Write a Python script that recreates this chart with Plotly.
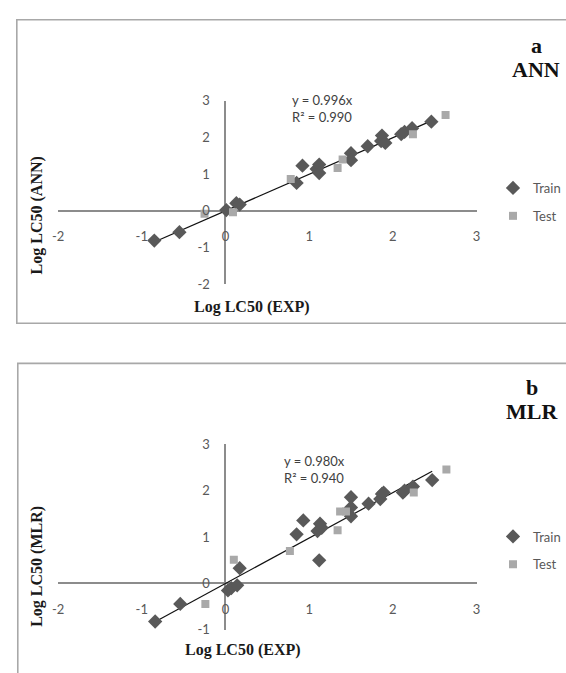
import plotly.graph_objects as go

# ---------------- data ----------------
ann_train_x = [-0.85, -0.55, 0.01, 0.13, 0.17, 0.85, 0.92, 1.09, 1.12, 1.12,
               1.50, 1.50, 1.70, 1.86, 1.87, 1.91, 2.10, 2.14, 2.23, 2.46]
ann_train_y = [-0.81, -0.58, 0.02, 0.21, 0.17, 0.76, 1.23, 1.14, 1.26, 1.03,
               1.57, 1.38, 1.76, 1.90, 2.05, 1.85, 2.09, 2.15, 2.25, 2.43]
ann_test_x = [-0.25, 0.09, 0.78, 1.34, 1.40, 2.24, 2.63]
ann_test_y = [-0.08, -0.04, 0.87, 1.17, 1.40, 2.09, 2.61]
ann_slope = 0.996
ann_r2 = 0.990

mlr_train_x = [-0.84, -0.54, 0.03, 0.07, 0.14, 0.17, 0.85, 0.93, 1.10, 1.13, 1.15, 1.12,
               1.50, 1.50, 1.50, 1.71, 1.85, 1.87, 1.89, 2.12, 2.14, 2.24, 2.47]
mlr_train_y = [-0.82, -0.44, -0.15, -0.10, -0.04, 0.33, 1.06, 1.36, 1.13, 1.29, 1.20, 0.50,
               1.86, 1.64, 1.45, 1.72, 1.82, 1.93, 1.96, 1.96, 2.00, 2.09, 2.23]
mlr_test_x = [-0.24, 0.10, 0.77, 1.34, 1.37, 1.44, 2.25, 2.64]
mlr_test_y = [-0.44, 0.51, 0.70, 1.15, 1.55, 1.55, 1.96, 2.46]
mlr_slope = 0.980
mlr_r2 = 0.940

x_ticks = [-2, -1, 0, 1, 2, 3]
x_tick_labels = ["-2", "-1", "0", "1", "2", "3"]
ann_y_ticks = [-2, -1, 0, 1, 2, 3]
ann_y_tick_labels = ["-2", "-1", "0", "1", "2", "3"]
mlr_y_ticks = [-1, 0, 1, 2, 3]
mlr_y_tick_labels = ["-1", "0", "1", "2", "3"]

panel_letters = ["a", "b"]
panel_models = ["ANN", "MLR"]
x_title = "Log LC50 (EXP)"
y_titles = ["Log LC50 (ANN)", "Log LC50 (MLR)"]
series_names = ["Train", "Test"]

# ---------------- layout helpers ----------------
W, H = 566, 673
def px(x):
    return x / W
def py(y):
    return 1 - y / H

TRAIN_COLOR = "#595959"
TEST_COLOR = "#a9a9a9"
TICK_FONT = dict(family="Lato", size=13, color="#595959")
SANS = "Lato"
SERIF = "Liberation Serif"

x_range = [-2, 3]
x_dom = [px(53), px(479)]
panels = [
    dict(tx=ann_train_x, ty=ann_train_y, sx=ann_test_x, sy=ann_test_y,
         slope=ann_slope, r2=ann_r2, yr=[-2, 3], ydom=[py(283), py(95)],
         yt=ann_y_ticks, ytl=ann_y_tick_labels, legend="legend",
         box=(11, 12, 323), xt=(250, 306), yti=(32, 212),
         let=(540, 38), mod=(540, 63), eq=(289, 102.5), leg_top=169),
    dict(tx=mlr_train_x, ty=mlr_train_y, sx=mlr_test_x, sy=mlr_test_y,
         slope=mlr_slope, r2=mlr_r2, yr=[-1, 3], ydom=[py(637), py(447)],
         yt=mlr_y_ticks, ytl=mlr_y_tick_labels, legend="legend2",
         box=(12, 364, 700), xt=(241, 658), yti=(32, 572),
         let=(535, 389), mod=(535, 413), eq=(281, 473), leg_top=526),
]

fig = go.Figure()
annotations = []
shapes = []
layout_axes = {}

for i, p in enumerate(panels):
    n = "" if i == 0 else str(i + 1)
    xa, ya = "x" + n, "y" + n
    # trendline through origin over the training range
    lx = [min(p["tx"]), max(p["tx"])]
    ly = [p["slope"] * v for v in lx]
    fig.add_trace(go.Scatter(x=lx, y=ly, mode="lines", xaxis=xa, yaxis=ya,
                             line=dict(color="#111111", width=1.2), showlegend=False,
                             hoverinfo="skip"))
    fig.add_trace(go.Scatter(x=p["tx"], y=p["ty"], mode="markers", name=series_names[0],
                             xaxis=xa, yaxis=ya, legend=p["legend"], legendgroup="tr" + n,
                             marker=dict(symbol="diamond", size=11, color=TRAIN_COLOR)))
    fig.add_trace(go.Scatter(x=p["sx"], y=p["sy"], mode="markers", name=series_names[1],
                             xaxis=xa, yaxis=ya, legend=p["legend"], legendgroup="te" + n,
                             marker=dict(symbol="square", size=8, color=TEST_COLOR)))

    # axis crossing positions (Excel style axes at zero)
    xpos = p["ydom"][0] + (0 - p["yr"][0]) / (p["yr"][1] - p["yr"][0]) * (p["ydom"][1] - p["ydom"][0])
    ypos = x_dom[0] + (0 - x_range[0]) / (x_range[1] - x_range[0]) * (x_dom[1] - x_dom[0])
    common = dict(showgrid=False, showline=False, ticks="outside", tickcolor="rgba(0,0,0,0)",
                  zeroline=True, zerolinecolor="#8c8c8c", zerolinewidth=1.6, tickfont=TICK_FONT)
    layout_axes["xaxis" + n] = dict(common, domain=x_dom, range=x_range, anchor="free",
                                    position=xpos, tickvals=x_ticks, ticktext=x_tick_labels,
                                    ticklen=14)
    layout_axes["yaxis" + n] = dict(common, domain=p["ydom"], range=p["yr"], anchor="free",
                                    position=ypos, tickvals=p["yt"], ticktext=p["ytl"],
                                    ticklen=13)

    # frame
    bx0, by0, by1 = p["box"]
    shapes.append(dict(type="rect", xref="paper", yref="paper", x0=px(bx0), x1=1.05,
                       y0=py(by1), y1=py(by0), line=dict(color="#a8a8a8", width=1.6)))
    # axis titles
    annotations.append(dict(text=x_title, x=px(p["xt"][0]), y=py(p["xt"][1]), xref="paper",
                            yref="paper", showarrow=False, xanchor="center", yanchor="middle",
                            font=dict(family=SERIF, size=16, color="#1a1a1a", weight="bold")))
    annotations.append(dict(text=y_titles[i], x=px(p["yti"][0]), y=py(p["yti"][1]), xref="paper",
                            yref="paper", showarrow=False, xanchor="center", yanchor="middle",
                            textangle=-90,
                            font=dict(family=SERIF, size=16, color="#1a1a1a", weight="bold")))
    # panel label
    for key, txt in (("let", panel_letters[i]), ("mod", panel_models[i])):
        annotations.append(dict(text=txt, x=px(p[key][0]), y=py(p[key][1]), xref="paper",
                                yref="paper", showarrow=False, xanchor="center", yanchor="middle",
                                font=dict(family=SERIF, size=22, color="#111111", weight="bold")))
    # equation
    annotations.append(dict(text=f"y = {p['slope']:.3f}x<br>R² = {p['r2']:.3f}",
                            x=px(p["eq"][0]), y=py(p["eq"][1]), xref="paper", yref="paper",
                            showarrow=False, xanchor="left", yanchor="middle", align="left",
                            font=dict(family=SANS, size=13, color="#404040")))

legend_common = dict(x=px(496), xanchor="left", yanchor="top", bgcolor="rgba(0,0,0,0)",
                     font=dict(family=SANS, size=13, color="#595959"), tracegroupgap=8,
                     traceorder="grouped")
fig.update_layout(
    width=W, height=H, autosize=False,
    margin=dict(l=0, r=0, t=0, b=0),
    paper_bgcolor="white", plot_bgcolor="white",
    showlegend=True,
    legend=dict(legend_common, y=py(panels[0]["leg_top"])),
    legend2=dict(legend_common, y=py(panels[1]["leg_top"])),
    annotations=annotations, shapes=shapes,
    **layout_axes,
)

fig.write_html("out.html", config={"displayModeBar": False},
               post_script="document.body.style.margin='0';document.body.style.overflow='hidden';")
